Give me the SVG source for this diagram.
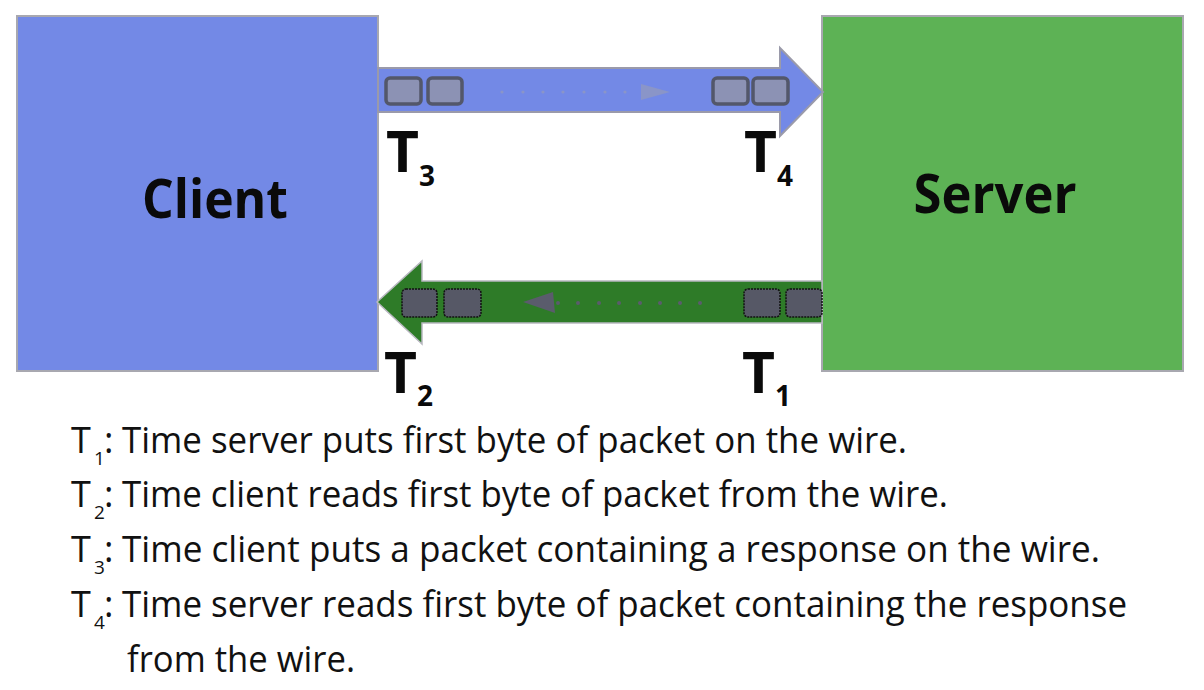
<svg xmlns="http://www.w3.org/2000/svg" width="1204" height="690" viewBox="0 0 1204 690">
<style>
.box{stroke:#a8a8b0;stroke-width:2}
.big{font-family:"Open Sans","Noto Sans",sans-serif;font-weight:bold;fill:#0a0a0a}
.leg{font-family:"Open Sans","Noto Sans",sans-serif;fill:#111;font-size:36px}
.sub{font-size:19px}
.bpk{fill:#8c92b4;stroke:#53576a;stroke-width:3.5}
.gpk{fill:#565866;stroke:#111;stroke-width:1.5;stroke-dasharray:2 1}
.bdot{fill:#8a95c8}
.gdot{fill:#5a5c6c}
</style>
<rect width="1204" height="690" fill="#fff"/>
<g id="client">
<rect class="box" x="17" y="16" width="361" height="355" fill="#7389e6"/>
<text class="big" x="215" y="218" font-size="54" text-anchor="middle" textLength="146" lengthAdjust="spacingAndGlyphs">Client</text>
</g>
<g id="server">
<rect class="box" x="822" y="16" width="361" height="355" fill="#5db255"/>
<text class="big" x="995" y="213" font-size="54" text-anchor="middle" textLength="163" lengthAdjust="spacingAndGlyphs">Server</text>
</g>
<g id="connectors">
<g id="arrow-request">
<path d="M378,68 H780 V48 L823,92 L780,136 V112 H378 Z" fill="#7389e6" stroke="#9a9aaa" stroke-width="2"/>
<rect class="bpk" x="386" y="78" width="35" height="26" rx="4"/>
<rect class="bpk" x="428" y="78" width="34" height="26" rx="4"/>
<rect class="bpk" x="713" y="78" width="35" height="26" rx="4"/>
<rect class="bpk" x="753" y="78" width="35" height="26" rx="4"/>
<g class="bdot">
<circle cx="502" cy="92" r="1.6"/><circle cx="523" cy="92" r="1.6"/><circle cx="543" cy="92" r="1.6"/><circle cx="563" cy="92" r="1.6"/><circle cx="584" cy="92" r="1.6"/><circle cx="605" cy="92" r="1.6"/><circle cx="625" cy="92" r="1.6"/>
<path d="M641,84 L670,92 L641,100 Z"/>
</g>
</g>
<g id="arrow-response">
<path d="M822,281 H422 V261 L377,302 L422,344 V323 H822 Z" fill="#2e7b28" stroke="#b8b8c0" stroke-width="1.5"/>
<rect class="gpk" x="402" y="289" width="35" height="28" rx="4"/>
<rect class="gpk" x="444" y="289" width="37" height="28" rx="4"/>
<rect class="gpk" x="744" y="289" width="36" height="28" rx="4"/>
<rect class="gpk" x="786" y="289" width="36" height="28" rx="4"/>
<g class="gdot">
<path d="M523,302 L553,292 L555,313 Z"/>
<circle cx="558" cy="303" r="2"/><circle cx="578" cy="303" r="2"/><circle cx="599" cy="303" r="2"/><circle cx="619" cy="303" r="2"/><circle cx="640" cy="303" r="2"/><circle cx="660" cy="303" r="2"/><circle cx="680" cy="303" r="2"/><circle cx="700" cy="303" r="2"/>
</g>
</g>
</g>
<g id="labels">
<text class="big" x="386" y="172" font-size="57">T</text><text class="big" x="419" y="186" font-size="28">3</text>
<text class="big" x="744" y="172" font-size="57">T</text><text class="big" x="777" y="186" font-size="28">4</text>
<text class="big" x="384" y="393" font-size="57">T</text><text class="big" x="417" y="406" font-size="28">2</text>
<text class="big" x="742" y="393" font-size="57">T</text><text class="big" x="775" y="406" font-size="28">1</text>
</g>
<g id="legend">
<text class="leg" x="71" y="453">T<tspan class="sub" x="94" y="465">1</tspan><tspan x="104" y="453">:</tspan></text>
<text class="leg" x="122" y="453" textLength="785" lengthAdjust="spacingAndGlyphs">Time server puts first byte of packet on the wire.</text>
<text class="leg" x="71" y="507">T<tspan class="sub" x="94" y="519">2</tspan><tspan x="104" y="507">:</tspan></text>
<text class="leg" x="122" y="507" textLength="826" lengthAdjust="spacingAndGlyphs">Time client reads first byte of packet from the wire.</text>
<text class="leg" x="71" y="562">T<tspan class="sub" x="94" y="574">3</tspan><tspan x="104" y="562">:</tspan></text>
<text class="leg" x="122" y="562" textLength="978" lengthAdjust="spacingAndGlyphs">Time client puts a packet containing a response on the wire.</text>
<text class="leg" x="71" y="617">T<tspan class="sub" x="94" y="629">4</tspan><tspan x="104" y="617">:</tspan></text>
<text class="leg" x="122" y="617" textLength="1005" lengthAdjust="spacingAndGlyphs">Time server reads first byte of packet containing the response</text>
<text class="leg" x="127" y="672" textLength="228" lengthAdjust="spacingAndGlyphs">from the wire.</text>
</g>
</svg>
